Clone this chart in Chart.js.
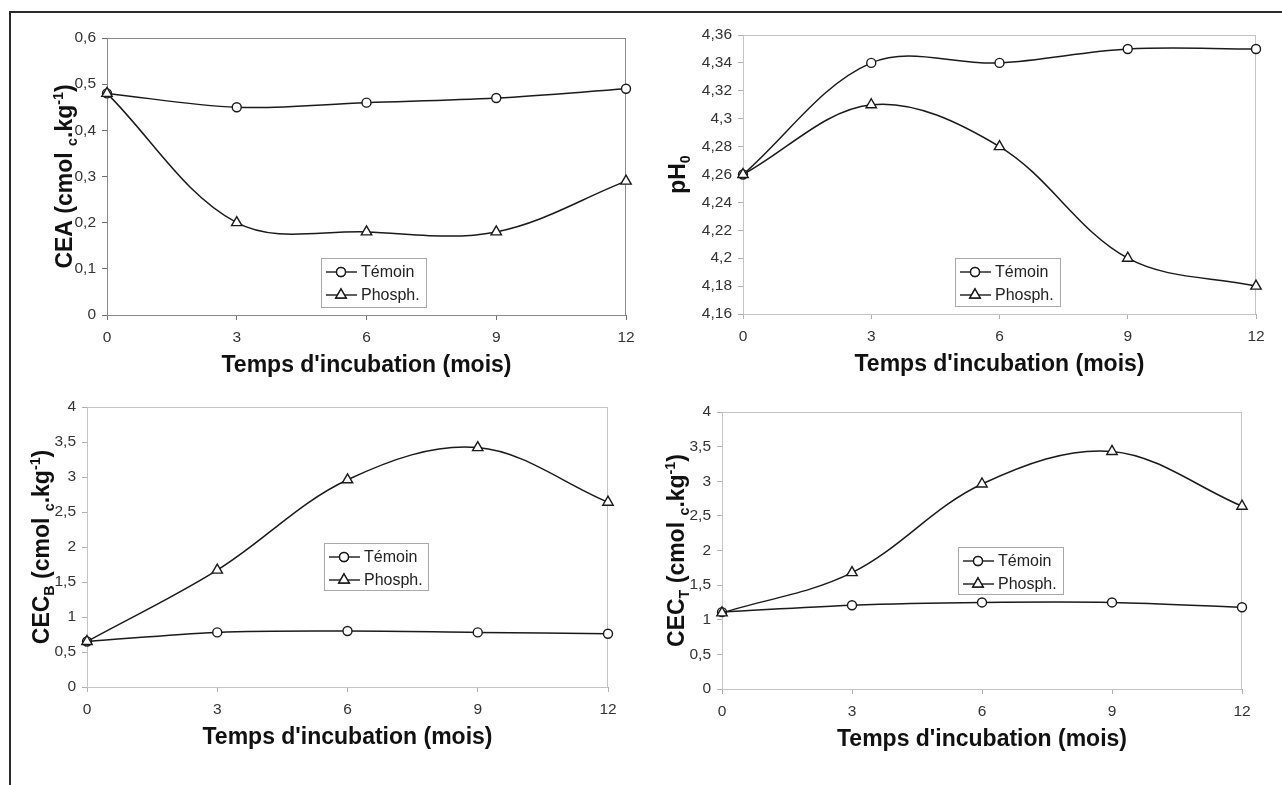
<!DOCTYPE html>
<html>
<head>
<meta charset="utf-8">
<script src="https://cdn.jsdelivr.net/npm/chart.js@4.4.1/dist/chart.umd.min.js"></script>
<style>
	body { margin: 0; background: #fff; width: 1282px; height: 785px; overflow: hidden; position: relative; }
	canvas { position: absolute; left: 0; top: 0; }
	#frame { position: absolute; left: 9px; top: 11px; width: 1300px; height: 800px; border-left: 2px solid #2a2a2a; border-top: 2px solid #2a2a2a; }
</style>
</head>
<body>
<div id="frame"></div>
<canvas id="c1" width="1282" height="785"></canvas>
<canvas id="c2" width="1282" height="785"></canvas>
<canvas id="c3" width="1282" height="785"></canvas>
<canvas id="c4" width="1282" height="785"></canvas>
<script>
// incubation time (months)
const months = [0, 3, 6, 9, 12];
const seriesNames = ["Témoin", "Phosph."];
const xTitle = "Temps d'incubation (mois)";

// CEA (cmolc/kg)
const ceaTemoin = [0.48, 0.45, 0.46, 0.47, 0.49];
const ceaPhosph = [0.48, 0.2, 0.18, 0.18, 0.29];
// pH0
const phTemoin = [4.26, 4.34, 4.34, 4.35, 4.35];
const phPhosph = [4.26, 4.31, 4.28, 4.2, 4.18];
// CEC_B
const cecbTemoin = [0.65, 0.78, 0.8, 0.78, 0.76];
const cecbPhosph = [0.65, 1.67, 2.96, 3.42, 2.64];
// CEC_T
const cectTemoin = [1.11, 1.21, 1.25, 1.25, 1.18];
const cectPhosph = [1.1, 1.68, 2.96, 3.43, 2.64];

const FONT = "'Liberation Sans', Arial, sans-serif";
const X_H = 40; // fixed height of x axis box

function fmt(v) {
	return String(+v.toFixed(2)).replace(".", ",");
}

function drawRich(ctx, runs, size, x, y, rotate) {
	ctx.save();
	ctx.translate(x, y);
	if (rotate) ctx.rotate(-Math.PI / 2);
	ctx.fillStyle = "#111";
	ctx.textBaseline = "alphabetic";
	ctx.textAlign = "left";
	const fontOf = (r) => "bold " + ((r.sub || r.sup) ? size * 0.62 : size) + "px " + FONT;
	let w = 0;
	runs.forEach((r) => { ctx.font = fontOf(r); w += ctx.measureText(r.t).width; });
	let cx = -w / 2;
	const base = size * 0.36;
	runs.forEach((r) => {
		ctx.font = fontOf(r);
		let dy = r.sub ? size * 0.2 : r.sup ? -size * 0.42 : 0;
		ctx.fillText(r.t, cx, base + dy);
		cx += ctx.measureText(r.t).width;
	});
	ctx.restore();
}

// draws plot box, axis titles and the little legend box
const decor = {
	id: "decor",
	beforeDatasetsDraw(chart, args, opts) {
		const { ctx, chartArea: a } = chart;
		ctx.save();
		ctx.strokeStyle = opts.boxColor;
		ctx.lineWidth = 1;
		ctx.strokeRect(a.left + 0.5, a.top + 0.5, a.right - a.left - 1, a.bottom - a.top);
		ctx.restore();
	},
	afterDraw(chart, args, opts) {
		const { ctx, chartArea: a } = chart;
		drawRich(ctx, [{ t: xTitle }], 23, (a.left + a.right) / 2, a.bottom + 49, false);
		drawRich(ctx, opts.yTitle, 23, opts.yTitleX, (a.top + a.bottom) / 2, true);

		// legend
		const L = opts.legend;
		ctx.save();
		ctx.fillStyle = "#fff";
		ctx.fillRect(L.x, L.y, L.w, L.h);
		ctx.strokeStyle = "#a8a8a8";
		ctx.lineWidth = 1;
		ctx.strokeRect(L.x + 0.5, L.y + 0.5, L.w, L.h);
		chart.data.datasets.forEach((ds, i) => {
			const yy = L.y + 14 + i * 23;
			ctx.strokeStyle = "#1a1a1a";
			ctx.lineWidth = 1.4;
			ctx.beginPath();
			ctx.moveTo(L.x + 5, yy);
			ctx.lineTo(L.x + 36, yy);
			ctx.stroke();
			ctx.fillStyle = "#fff";
			Chart.helpers.drawPoint(ctx, {
				pointStyle: ds.pointStyle,
				radius: ds.pointRadius,
				borderWidth: 1.3,
				rotation: 0,
			}, L.x + 20, yy);
			ctx.fill();
			ctx.stroke();
			ctx.fillStyle = "#222";
			ctx.font = "16px " + FONT;
			ctx.textBaseline = "middle";
			ctx.fillText(ds.label, L.x + 40, yy + 1);
		});
		ctx.restore();
	},
};

function series(label, vals, style, r, order) {
	return {
		label: label,
		data: months.map((m, i) => ({ x: m, y: vals[i] })),
		borderColor: "#1a1a1a",
		borderWidth: 1.5,
		backgroundColor: "#fff",
		pointStyle: style,
		pointRadius: r,
		pointBorderWidth: 1.4,
		pointBackgroundColor: "#fff",
		pointBorderColor: "#1a1a1a",
		tension: 0.35,
		clip: false,
		order: order,
	};
}

function makePanel(id, p) {
	const axisColor = p.axisColor;
	new Chart(document.getElementById(id), {
		type: "line",
		data: {
			datasets: [
				series(seriesNames[0], p.temoin, "circle", 4.5, 1),
				series(seriesNames[1], p.phosph, "triangle", 6, 0),
			],
		},
		plugins: [decor],
		options: {
			responsive: false,
			animation: false,
			events: [],
			layout: {
				padding: {
					left: 0,
					top: p.area.t,
					right: 1282 - p.area.r,
					bottom: 785 - p.area.b - X_H,
				},
			},
			plugins: {
				legend: { display: false },
				tooltip: { enabled: false },
				decor: {
					yTitle: p.yTitle,
					yTitleX: p.yTitleX,
					legend: p.legend,
					boxColor: p.boxColor,
				},
			},
			scales: {
				x: {
					type: "linear",
					min: 0,
					max: 12,
					afterFit(s) { s.height = X_H; },
					afterBuildTicks(s) { s.ticks = months.map((m) => ({ value: m })); },
					ticks: { color: "#333", font: { family: FONT, size: 15.5 }, padding: 8, maxRotation: 0 },
					grid: { drawOnChartArea: false, tickLength: 5, color: axisColor },
					border: { color: axisColor, width: 1 },
				},
				y: {
					min: p.yMin,
					max: p.yMax,
					afterFit(s) { s.width = p.area.l; },
					ticks: {
						stepSize: p.yStep,
						color: "#333",
						font: { family: FONT, size: 15.5 },
						padding: 6,
						callback: (v) => fmt(v),
					},
					grid: { drawOnChartArea: false, tickLength: 5, color: axisColor },
					border: { color: axisColor, width: 1 },
				},
			},
		},
	});
}

makePanel("c1", {
	temoin: ceaTemoin, phosph: ceaPhosph,
	area: { l: 107, r: 626, t: 38, b: 315 },
	yMin: 0, yMax: 0.6, yStep: 0.1,
	yTitle: [{ t: "CEA (cmol " }, { t: "c", sub: true }, { t: ".kg" }, { t: "-1", sup: true }, { t: ")" }],
	yTitleX: 64,
	legend: { x: 321, y: 258, w: 105, h: 49 },
	axisColor: "#707070", boxColor: "#8a8a8a",
});
makePanel("c2", {
	temoin: phTemoin, phosph: phPhosph,
	area: { l: 743, r: 1256, t: 35, b: 314 },
	yMin: 4.16, yMax: 4.36, yStep: 0.02,
	yTitle: [{ t: "pH" }, { t: "0", sub: true }],
	yTitleX: 677,
	legend: { x: 955, y: 258, w: 105, h: 48 },
	axisColor: "#b0b0b0", boxColor: "#c4c4c4",
});
makePanel("c3", {
	temoin: cecbTemoin, phosph: cecbPhosph,
	area: { l: 87, r: 608, t: 407, b: 687 },
	yMin: 0, yMax: 4, yStep: 0.5,
	yTitle: [{ t: "CEC" }, { t: "B", sub: true }, { t: " (cmol " }, { t: "c", sub: true }, { t: ".kg" }, { t: "-1", sup: true }, { t: ")" }],
	yTitleX: 41,
	legend: { x: 324, y: 543, w: 104, h: 47 },
	axisColor: "#b0b0b0", boxColor: "#c4c4c4",
});
makePanel("c4", {
	temoin: cectTemoin, phosph: cectPhosph,
	area: { l: 722, r: 1242, t: 412, b: 689 },
	yMin: 0, yMax: 4, yStep: 0.5,
	yTitle: [{ t: "CEC" }, { t: "T", sub: true }, { t: " (cmol " }, { t: "c", sub: true }, { t: ".kg" }, { t: "-1", sup: true }, { t: ")" }],
	yTitleX: 676,
	legend: { x: 958, y: 547, w: 105, h: 47 },
	axisColor: "#b0b0b0", boxColor: "#c4c4c4",
});
</script>
</body>
</html>
